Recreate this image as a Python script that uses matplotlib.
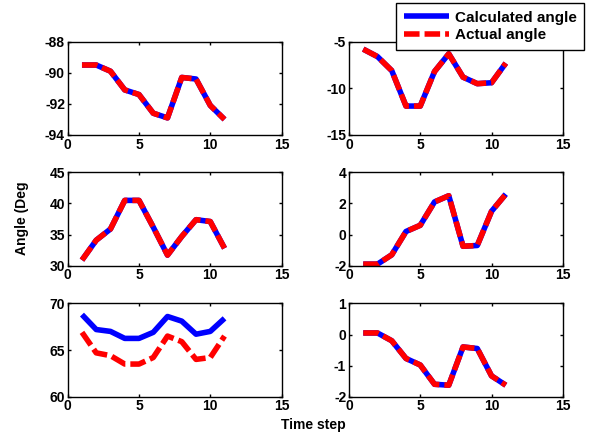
import matplotlib.pyplot as plt
import numpy as np

plt.rcParams['font.family'] = ['Liberation Sans', 'DejaVu Sans']
plt.rcParams['font.weight'] = 'bold'
plt.rcParams['font.size'] = 10
plt.rcParams['axes.unicode_minus'] = False

steps = np.arange(1, 12)

# calculated / actual angle per joint
calc1 = [-89.5, -89.5, -89.9, -91.1, -91.4, -92.6, -92.9, -90.3, -90.4, -92.1, -93.0]
act1 = calc1
calc2 = [-5.8, -6.6, -8.1, -11.9, -11.9, -8.2, -6.3, -8.8, -9.5, -9.4, -7.3]
act2 = calc2
calc3 = [30.9, 34.1, 35.9, 40.5, 40.5, 36.2, 31.7, 34.7, 37.4, 37.1, 32.8]
act3 = calc3
calc4 = [-1.9, -1.9, -1.3, 0.2, 0.6, 2.1, 2.5, -0.75, -0.7, 1.5, 2.6]
act4 = calc4
calc5 = [68.8, 67.2, 67.0, 66.25, 66.25, 66.9, 68.6, 68.1, 66.7, 67.0, 68.4]
act5 = [66.9, 64.7, 64.4, 63.5, 63.5, 64.2, 66.5, 65.9, 64.0, 64.2, 66.5]
calc6 = [0.05, 0.05, -0.2, -0.77, -0.98, -1.6, -1.63, -0.4, -0.45, -1.33, -1.63]
act6 = calc6

calcs = [calc1, calc2, calc3, calc4, calc5, calc6]
acts = [act1, act2, act3, act4, act5, act6]
ylims = [(-94, -88), (-15, -5), (30, 45), (-2, 4), (60, 70), (-2, 1)]
yticks = [[-94, -92, -90, -88], [-15, -10, -5], [30, 35, 40, 45],
          [-2, 0, 2, 4], [60, 65, 70], [-2, -1, 0, 1]]

fig = plt.figure(figsize=(5.94, 4.36), dpi=100)

lefts = [0.114, 0.5875]
bottoms = [0.6904, 0.3906, 0.0901]
w, h = 0.360, 0.214

for i in range(6):
    r, c = divmod(i, 2)
    ax = fig.add_axes([lefts[c], bottoms[r], w, h])
    l1, = ax.plot(steps, calcs[i], color='blue', lw=4, solid_capstyle='butt')
    l2, = ax.plot(steps, acts[i], color='red', lw=4, linestyle=(0, (2.8, 0.9)))
    ax.set_xlim(0, 15)
    ax.set_ylim(*ylims[i])
    ax.set_xticks([0, 5, 10, 15])
    ax.set_yticks(yticks[i])
    ax.tick_params(direction='in', top=True, right=True, length=2, width=1, pad=2)
    for s in ax.spines.values():
        s.set_linewidth(1)

fig.text(0.037, 0.5, 'Angle (Deg', rotation=90, ha='center', va='center', fontsize=10)
fig.text(0.527, 0.025, 'Time step', ha='center', va='center', fontsize=10)

leg = fig.legend([l1, l2], ['Calculated angle', 'Actual angle'], loc='lower left',
                 bbox_to_anchor=(396 / 594, 1 - 50 / 436), fancybox=False,
                 edgecolor='black', handlelength=3.0, handletextpad=0.35,
                 labelspacing=0.25, borderpad=0.5, borderaxespad=0,
                 framealpha=1, fontsize=11)
leg.get_frame().set_linewidth(1)

plt.savefig('out.png', dpi=100)
